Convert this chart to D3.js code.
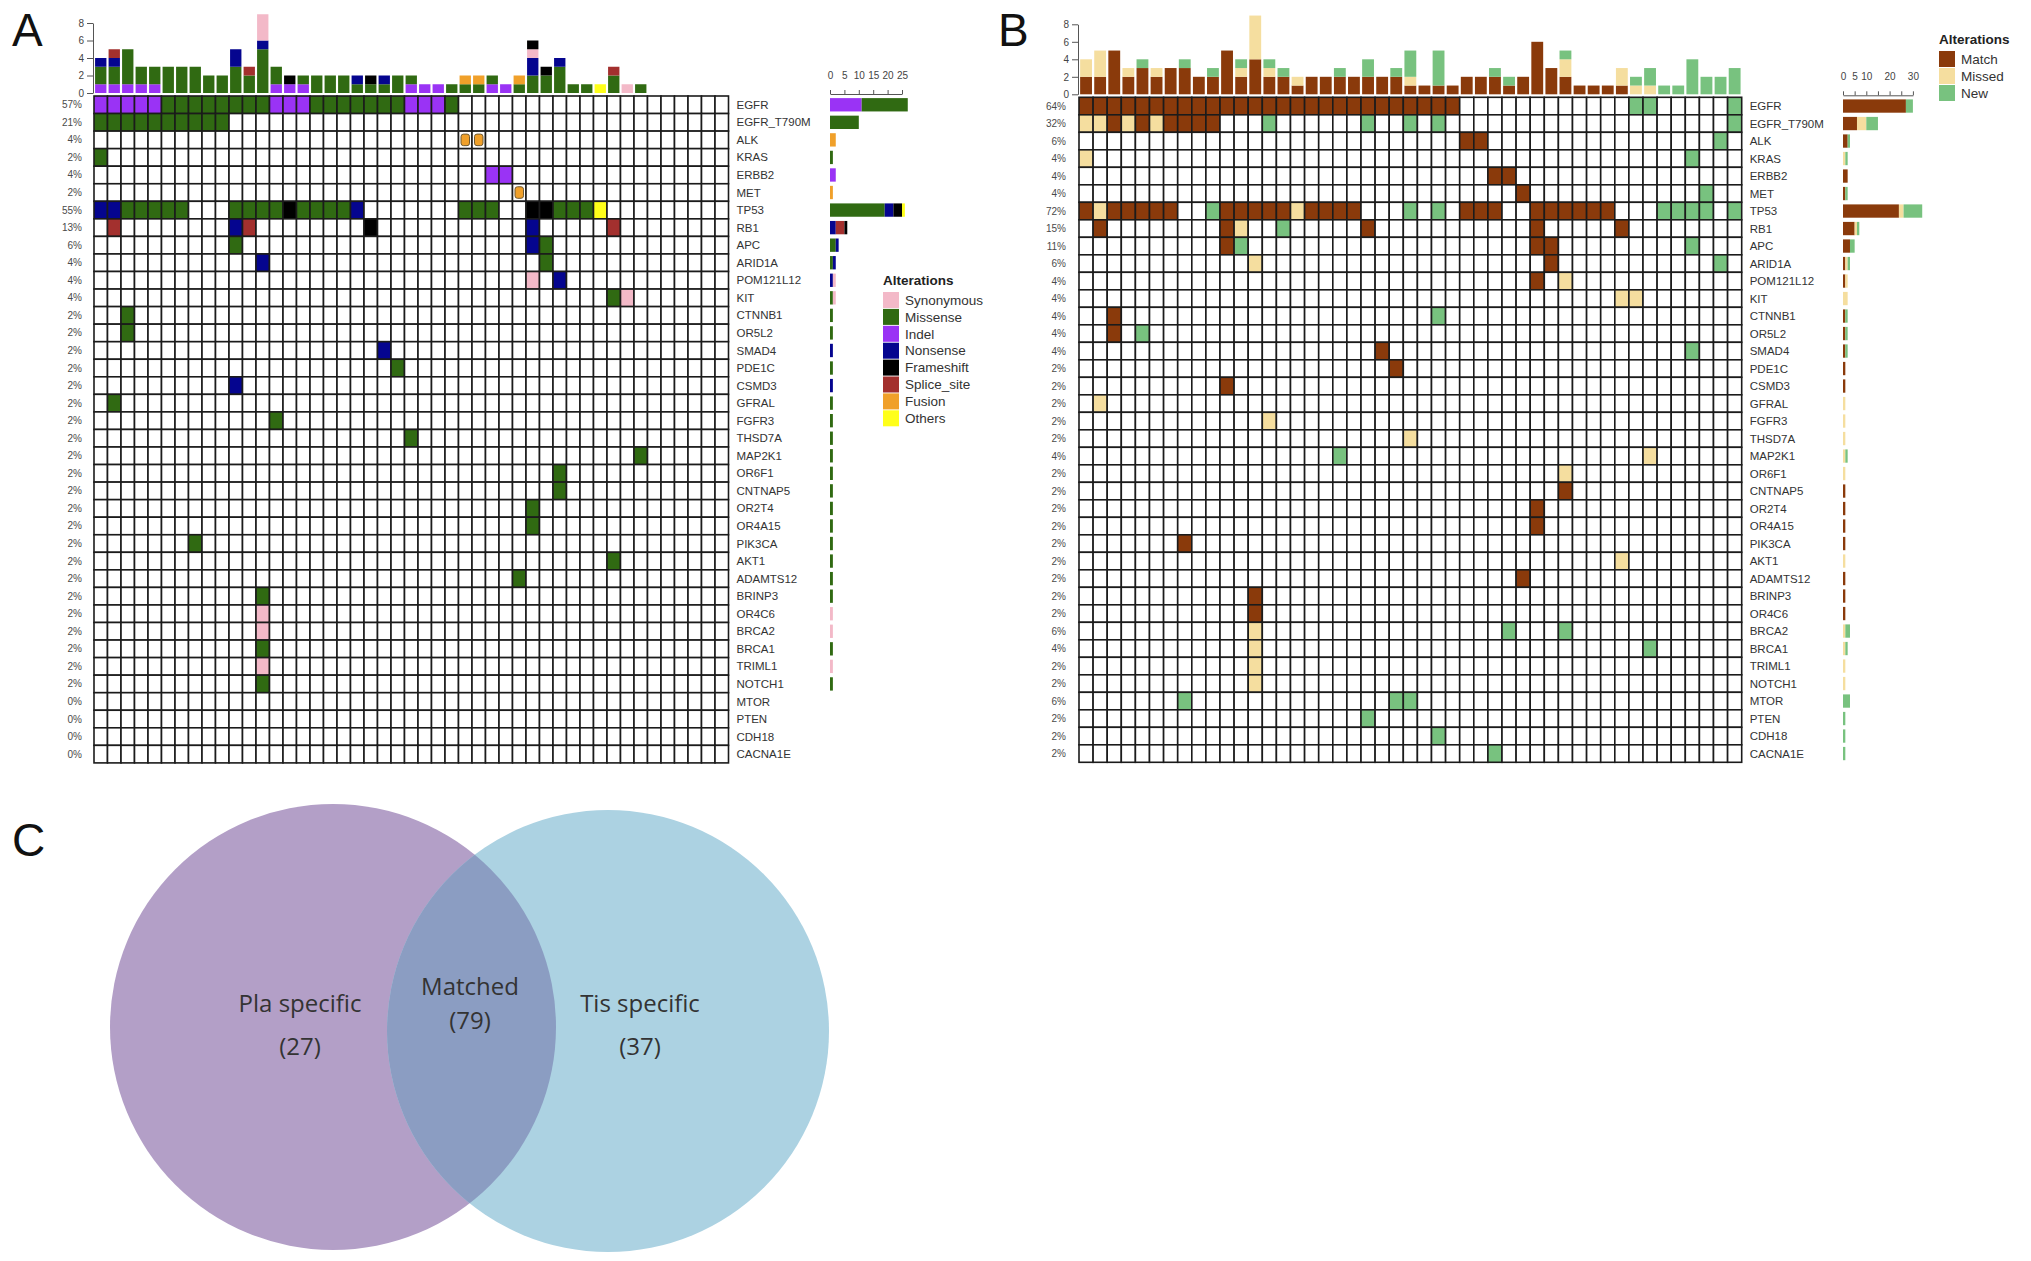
<!DOCTYPE html>
<html>
<head>
<meta charset="utf-8">
<script src="https://cdn.jsdelivr.net/npm/d3@7"></script>
<style>
  body { margin: 0; background: #fff; }
  text { font-family: "Liberation Sans", Arial, sans-serif; }
</style>
</head>
<body>
<svg id="fig" width="2031" height="1261"></svg>
<script>
const N_SAMPLES = 47;

const genes = ["EGFR", "EGFR_T790M", "ALK", "KRAS", "ERBB2", "MET", "TP53", "RB1", "APC",
  "ARID1A", "POM121L12", "KIT", "CTNNB1", "OR5L2", "SMAD4", "PDE1C", "CSMD3", "GFRAL",
  "FGFR3", "THSD7A", "MAP2K1", "OR6F1", "CNTNAP5", "OR2T4", "OR4A15", "PIK3CA", "AKT1",
  "ADAMTS12", "BRINP3", "OR4C6", "BRCA2", "BRCA1", "TRIML1", "NOTCH1", "MTOR", "PTEN",
  "CDH18", "CACNA1E"];

// panel A alteration types
const altNamesA = ["Synonymous", "Missense", "Indel", "Nonsense", "Frameshift", "Splice_site", "Fusion", "Others"];
const altCodesA = ["S", "M", "I", "N", "F", "P", "U", "O"];
const altColorsA = ["#f3b9c8", "#306a12", "#9a33f5", "#05058f", "#000000", "#a3302e", "#f0a02a", "#ffff1a"];
const stackOrderA = ["I", "M", "U", "N", "S", "P", "F", "O"];

// [gene, type, first sample, last sample]
const mutA = [
  ["EGFR", "I", 0, 4], ["EGFR", "M", 5, 12], ["EGFR", "I", 13, 15], ["EGFR", "M", 16, 22],
  ["EGFR", "I", 23, 25], ["EGFR", "M", 26, 26],
  ["EGFR_T790M", "M", 0, 9],
  ["ALK", "U", 27, 28],
  ["KRAS", "M", 0, 0],
  ["ERBB2", "I", 29, 30],
  ["MET", "U", 31, 31],
  ["TP53", "N", 0, 1], ["TP53", "M", 2, 6], ["TP53", "M", 10, 13], ["TP53", "F", 14, 14],
  ["TP53", "M", 15, 18], ["TP53", "N", 19, 19], ["TP53", "M", 27, 29], ["TP53", "F", 32, 33],
  ["TP53", "M", 34, 36], ["TP53", "O", 37, 37],
  ["RB1", "P", 1, 1], ["RB1", "N", 10, 10], ["RB1", "P", 11, 11], ["RB1", "F", 20, 20],
  ["RB1", "N", 32, 32], ["RB1", "P", 38, 38],
  ["APC", "M", 10, 10], ["APC", "N", 32, 32], ["APC", "M", 33, 33],
  ["ARID1A", "N", 12, 12], ["ARID1A", "M", 33, 33],
  ["POM121L12", "S", 32, 32], ["POM121L12", "N", 34, 34],
  ["KIT", "M", 38, 38], ["KIT", "S", 39, 39],
  ["CTNNB1", "M", 2, 2],
  ["OR5L2", "M", 2, 2],
  ["SMAD4", "N", 21, 21],
  ["PDE1C", "M", 22, 22],
  ["CSMD3", "N", 10, 10],
  ["GFRAL", "M", 1, 1],
  ["FGFR3", "M", 13, 13],
  ["THSD7A", "M", 23, 23],
  ["MAP2K1", "M", 40, 40],
  ["OR6F1", "M", 34, 34],
  ["CNTNAP5", "M", 34, 34],
  ["OR2T4", "M", 32, 32],
  ["OR4A15", "M", 32, 32],
  ["PIK3CA", "M", 7, 7],
  ["AKT1", "M", 38, 38],
  ["ADAMTS12", "M", 31, 31],
  ["BRINP3", "M", 12, 12],
  ["OR4C6", "S", 12, 12],
  ["BRCA2", "S", 12, 12],
  ["BRCA1", "M", 12, 12],
  ["TRIML1", "S", 12, 12],
  ["NOTCH1", "M", 12, 12],
];

// panel B: concordance between plasma and tissue
const altNamesB = ["Match", "Missed", "New"];
const altCodesB = ["M", "X", "N"];
const altColorsB = ["#8a3a0b", "#f5de9f", "#78c27f"];

const mutB = [
  ["EGFR", "M", 0, 26], ["EGFR", "N", 39, 40], ["EGFR", "N", 46, 46],
  ["EGFR_T790M", "X", 0, 1], ["EGFR_T790M", "M", 2, 2], ["EGFR_T790M", "X", 3, 3],
  ["EGFR_T790M", "M", 4, 4], ["EGFR_T790M", "X", 5, 5], ["EGFR_T790M", "M", 6, 9],
  ["EGFR_T790M", "N", 13, 13], ["EGFR_T790M", "N", 20, 20], ["EGFR_T790M", "N", 23, 23],
  ["EGFR_T790M", "N", 25, 25], ["EGFR_T790M", "N", 46, 46],
  ["ALK", "M", 27, 28], ["ALK", "N", 45, 45],
  ["KRAS", "X", 0, 0], ["KRAS", "N", 43, 43],
  ["ERBB2", "M", 29, 30],
  ["MET", "M", 31, 31], ["MET", "N", 44, 44],
  ["TP53", "M", 0, 0], ["TP53", "X", 1, 1], ["TP53", "M", 2, 6], ["TP53", "N", 9, 9],
  ["TP53", "M", 10, 14], ["TP53", "X", 15, 15], ["TP53", "M", 16, 19], ["TP53", "N", 23, 23],
  ["TP53", "N", 25, 25], ["TP53", "M", 27, 29], ["TP53", "M", 32, 37], ["TP53", "N", 41, 44],
  ["TP53", "N", 46, 46],
  ["RB1", "M", 1, 1], ["RB1", "M", 10, 10], ["RB1", "X", 11, 11], ["RB1", "N", 14, 14],
  ["RB1", "M", 20, 20], ["RB1", "M", 32, 32], ["RB1", "M", 38, 38],
  ["APC", "M", 10, 10], ["APC", "N", 11, 11], ["APC", "M", 32, 33], ["APC", "N", 43, 43],
  ["ARID1A", "X", 12, 12], ["ARID1A", "M", 33, 33], ["ARID1A", "N", 45, 45],
  ["POM121L12", "M", 32, 32], ["POM121L12", "X", 34, 34],
  ["KIT", "X", 38, 39],
  ["CTNNB1", "M", 2, 2], ["CTNNB1", "N", 25, 25],
  ["OR5L2", "M", 2, 2], ["OR5L2", "N", 4, 4],
  ["SMAD4", "M", 21, 21], ["SMAD4", "N", 43, 43],
  ["PDE1C", "M", 22, 22],
  ["CSMD3", "M", 10, 10],
  ["GFRAL", "X", 1, 1],
  ["FGFR3", "X", 13, 13],
  ["THSD7A", "X", 23, 23],
  ["MAP2K1", "N", 18, 18], ["MAP2K1", "X", 40, 40],
  ["OR6F1", "X", 34, 34],
  ["CNTNAP5", "M", 34, 34],
  ["OR2T4", "M", 32, 32],
  ["OR4A15", "M", 32, 32],
  ["PIK3CA", "M", 7, 7],
  ["AKT1", "X", 38, 38],
  ["ADAMTS12", "M", 31, 31],
  ["BRINP3", "M", 12, 12],
  ["OR4C6", "M", 12, 12],
  ["BRCA2", "X", 12, 12], ["BRCA2", "N", 30, 30], ["BRCA2", "N", 34, 34],
  ["BRCA1", "X", 12, 12], ["BRCA1", "N", 40, 40],
  ["TRIML1", "X", 12, 12],
  ["NOTCH1", "X", 12, 12],
  ["MTOR", "N", 7, 7], ["MTOR", "N", 22, 23],
  ["PTEN", "N", 20, 20],
  ["CDH18", "N", 25, 25],
  ["CACNA1E", "N", 29, 29],
];

const topTicks = [0, 2, 4, 6, 8];
const sideTicksA = [0, 5, 10, 15, 20, 25];
const sideLabelsA = [0, 5, 10, 15, 20, 25];
const sideTicksB = [0, 5, 10, 15, 20, 25, 30];
const sideLabelsB = [0, 5, 10, 20, 30];

const vennLabels = ["Pla specific", "Matched", "Tis specific"];
const vennCounts = [27, 79, 37];

const svg = d3.select("#fig");

function expand(runs) {
  const out = [];
  runs.forEach(([gene, code, a, b]) => {
    for (let c = a; c <= b; c++) out.push({ gene, code, col: c });
  });
  return out;
}

function drawOncoprint(opt) {
  const g = svg.append("g");
  const cells = expand(opt.runs);
  const x = d3.scaleBand().domain(d3.range(N_SAMPLES)).range([opt.x0, opt.x0 + N_SAMPLES * opt.cw]);
  const y = d3.scaleBand().domain(genes).range([opt.y0, opt.y0 + genes.length * opt.rh]);
  const color = d3.scaleOrdinal().domain(opt.codes).range(opt.colors);
  const lookup = new Map(cells.map((d) => [d.gene + "|" + d.col, d.code]));

  // grid
  const grid = [];
  genes.forEach((gn) =>
    d3.range(N_SAMPLES).forEach((c) => grid.push({ gene: gn, col: c, code: lookup.get(gn + "|" + c) }))
  );
  g.append("g")
    .selectAll("rect")
    .data(grid)
    .join("rect")
    .attr("x", (d) => x(d.col))
    .attr("y", (d) => y(d.gene))
    .attr("width", x.bandwidth())
    .attr("height", y.bandwidth())
    .attr("fill", (d) => (d.code && d.code !== "U" ? color(d.code) : "#fff"))
    .attr("stroke", "#1b1b1b")
    .attr("stroke-width", 1.6);

  // fusion shown as small box inside the cell
  g.append("g")
    .selectAll("rect")
    .data(cells.filter((d) => d.code === "U"))
    .join("rect")
    .attr("x", (d) => x(d.col) + 2.5)
    .attr("y", (d) => y(d.gene) + 3)
    .attr("width", x.bandwidth() - 5)
    .attr("height", y.bandwidth() - 6)
    .attr("rx", 2.5)
    .attr("fill", color("U"))
    .attr("stroke", "#6e5a34")
    .attr("stroke-width", 1);

  // percentages and gene names
  const geneCounts = genes.map((gn) => {
    const o = { gene: gn };
    opt.order.forEach((k) => (o[k] = 0));
    return o;
  });
  cells.forEach((d) => geneCounts[genes.indexOf(d.gene)][d.code]++);

  g.append("g")
    .selectAll("text")
    .data(geneCounts)
    .join("text")
    .attr("x", opt.pctX)
    .attr("y", (d) => y(d.gene) + y.bandwidth() / 2)
    .attr("dy", "0.35em")
    .attr("text-anchor", "end")
    .style("font-size", "10px")
    .attr("fill", "#4a4a4a")
    .text((d) => Math.round((d3.sum(opt.order, (k) => d[k]) / N_SAMPLES) * 100) + "%");

  g.append("g")
    .selectAll("text")
    .data(genes)
    .join("text")
    .attr("x", opt.x0 + N_SAMPLES * opt.cw + 8)
    .attr("y", (d) => y(d) + y.bandwidth() / 2)
    .attr("dy", "0.35em")
    .style("font-size", "11.5px")
    .attr("fill", "#333")
    .text((d) => d);

  // top bars: alterations per sample
  const colCounts = d3.range(N_SAMPLES).map((c) => {
    const o = { col: c };
    opt.order.forEach((k) => (o[k] = 0));
    return o;
  });
  cells.forEach((d) => colCounts[d.col][d.code]++);
  const colSeries = d3.stack().keys(opt.order)(colCounts);
  const base = opt.y0 - 3;
  const yTop = d3.scaleLinear().domain([0, 8]).range([base, base - 70]);
  const bw = x.bandwidth() * 0.84;

  g.append("g")
    .selectAll("g")
    .data(colSeries)
    .join("g")
    .attr("fill", (s) => color(s.key))
    .selectAll("rect")
    .data((s) => s.filter((d) => d[1] > d[0]))
    .join("rect")
    .attr("x", (d) => x(d.data.col) + (x.bandwidth() - bw) / 2)
    .attr("y", (d) => yTop(d[1]))
    .attr("width", bw)
    .attr("height", (d) => yTop(d[0]) - yTop(d[1]));

  const ax = g.append("g")
    .attr("transform", `translate(${opt.x0 - 1},0)`)
    .call(d3.axisLeft(yTop).tickValues(topTicks).tickSize(6).tickPadding(3).tickSizeOuter(0));
  ax.selectAll("text").style("font-size", "10px").attr("fill", "#444");
  ax.selectAll("line,path").attr("stroke", "#555");

  // side bars: alterations per gene
  const geneSeries = d3.stack().keys(opt.order)(geneCounts);
  const xR = d3.scaleLinear().domain([0, opt.sideMax]).range([opt.rx0, opt.rx0 + opt.sideMax * opt.rUnit]);
  const bh = y.bandwidth() * 0.76;

  g.append("g")
    .selectAll("g")
    .data(geneSeries)
    .join("g")
    .attr("fill", (s) => color(s.key))
    .selectAll("rect")
    .data((s) => s.filter((d) => d[1] > d[0]))
    .join("rect")
    .attr("x", (d) => xR(d[0]))
    .attr("y", (d) => y(d.data.gene) + (y.bandwidth() - bh) / 2)
    .attr("width", (d) => xR(d[1]) - xR(d[0]))
    .attr("height", bh);

  const rax = g.append("g")
    .attr("transform", `translate(0,${opt.y0 - 2})`)
    .call(
      d3.axisTop(xR)
        .tickValues(opt.sideTicks)
        .tickFormat((d) => (opt.sideLabels.includes(d) ? d : ""))
        .tickSize(4)
        .tickPadding(11)
        .tickSizeOuter(0)
    );
  rax.selectAll("text").style("font-size", "10px").attr("fill", "#444");
  rax.selectAll("line,path").attr("stroke", "#555");

  // legend
  const lg = g.append("g").attr("transform", `translate(${opt.legX},${opt.legY})`);
  lg.append("text")
    .attr("x", 0)
    .attr("y", 0)
    .attr("dy", "0.35em")
    .style("font-size", "13.5px")
    .style("font-weight", "bold")
    .attr("fill", "#222")
    .text("Alterations");
  const items = lg.selectAll("g.item")
    .data(opt.names.map((n, i) => ({ name: n, code: opt.codes[i] })))
    .join("g")
    .attr("class", "item")
    .attr("transform", (d, i) => `translate(0,${20 + i * opt.legStep})`);
  items.append("rect")
    .attr("x", 0)
    .attr("y", -8)
    .attr("width", 16)
    .attr("height", 16)
    .attr("fill", (d) => color(d.code));
  items.append("text")
    .attr("x", 22)
    .attr("y", 0)
    .attr("dy", "0.35em")
    .style("font-size", "13.5px")
    .attr("fill", "#333")
    .text((d) => d.name);
}

drawOncoprint({
  runs: mutA, codes: altCodesA, colors: altColorsA, names: altNamesA, order: stackOrderA,
  x0: 94, y0: 96, cw: 13.5, rh: 17.55, pctX: 82,
  rx0: 830, rUnit: 2.88, sideMax: 25, sideTicks: sideTicksA, sideLabels: sideLabelsA,
  legX: 883, legY: 280, legStep: 16.9,
});

drawOncoprint({
  runs: mutB, codes: altCodesB, colors: altColorsB, names: altNamesB, order: altCodesB,
  x0: 1079, y0: 97.3, cw: 14.1, rh: 17.5, pctX: 1066,
  rx0: 1843, rUnit: 2.33, sideMax: 30, sideTicks: sideTicksB, sideLabels: sideLabelsB,
  legX: 1939, legY: 39, legStep: 17,
});

// panel letters
[["A", 12, 46], ["B", 998, 46], ["C", 12, 856]].forEach(([t, px, py]) => {
  svg.append("text").attr("x", px).attr("y", py).style("font-size", "46px").attr("fill", "#111").text(t);
});

// Venn diagram
const venn = svg.append("g");
const leftC = { cx: 333, cy: 1027, r: 223 };
const rightC = { cx: 608, cy: 1031, r: 221 };
venn.append("clipPath").attr("id", "leftClip")
  .append("circle").attr("cx", leftC.cx).attr("cy", leftC.cy).attr("r", leftC.r);
venn.append("circle").attr("cx", leftC.cx).attr("cy", leftC.cy).attr("r", leftC.r).attr("fill", "#b39fc7");
venn.append("circle").attr("cx", rightC.cx).attr("cy", rightC.cy).attr("r", rightC.r).attr("fill", "#acd2e2");
venn.append("circle").attr("cx", rightC.cx).attr("cy", rightC.cy).attr("r", rightC.r)
  .attr("fill", "#8b9dc2").attr("clip-path", "url(#leftClip)");

const vennPos = [[300, 1004, 1047], [470, 987, 1021], [640, 1004, 1047]];
vennLabels.forEach((lab, i) => {
  const [tx, ty1, ty2] = vennPos[i];
  venn.append("text").attr("x", tx).attr("y", ty1).attr("dy", "0.35em")
    .attr("text-anchor", "middle").style("font-family", "'Open Sans', sans-serif")
    .style("font-size", "24px").attr("fill", "#333").text(lab);
  venn.append("text").attr("x", tx).attr("y", ty2).attr("dy", "0.35em")
    .attr("text-anchor", "middle").style("font-family", "'Open Sans', sans-serif")
    .style("font-size", "24px").attr("fill", "#333").text("(" + vennCounts[i] + ")");
});
</script>
</body>
</html>
